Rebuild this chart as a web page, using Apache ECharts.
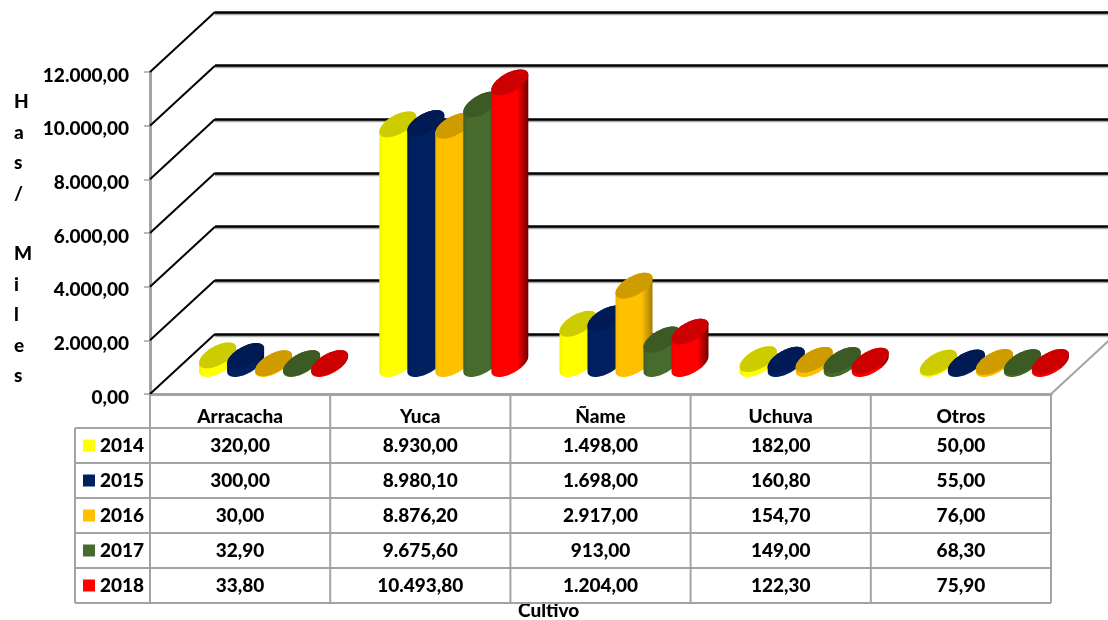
<!DOCTYPE html>
<html>
<head>
<meta charset="utf-8">
<script src="https://cdn.jsdelivr.net/npm/echarts@6/dist/echarts.min.js"></script>
<style>html,body{margin:0;padding:0;background:#fff}#c{width:1108px;height:620px}</style>
</head>
<body>
<div id="c"></div>
<script>
const categories = ['Arracacha', 'Yuca', 'Ñame', 'Uchuva', 'Otros'];
const years = ['2014', '2015', '2016', '2017', '2018'];
const v2014 = [320, 8930, 1498, 182, 50];
const v2015 = [300, 8980.1, 1698, 160.8, 55];
const v2016 = [30, 8876.2, 2917, 154.7, 76];
const v2017 = [32.9, 9675.6, 913, 149, 68.3];
const v2018 = [33.8, 10493.8, 1204, 122.3, 75.9];
const yTicks = [0, 2000, 4000, 6000, 8000, 10000, 12000];
const yTitle = ['H', 'a', 's', '/', '', 'M', 'i', 'l', 'e', 's'];
const xTitle = 'Cultivo';

const rows = [v2014, v2015, v2016, v2017, v2018];
const sideColors = [
  ['#f4f400', '#ffff00', '#ffff00', '#d8d800'],
  ['#001a50', '#002060', '#002060', '#00143c'],
  ['#f5b800', '#ffc000', '#ffc000', '#a57e00'],
  ['#405f26', '#476b2d', '#476b2d', '#2a401a'],
  ['#f00000', '#ff0000', '#ff0000', '#6e0000']
];
const topColors = ['#cccc00', '#001a55', '#cf9c00', '#3b5a24', '#cc0000'];

const FONT = 'Lato';
const WEIGHT = 900;
const FS = 19;
const DX = 65, DY = -60, STEP = 28, CENTER_SHIFT = 1;
const A = 20.5, B = 9.5, TH = 29 * Math.PI / 180;
const TABLE_LEFT = 75, TABLE_BOTTOM = 603;
const rowEdges = [428, 463, 498, 533, 568, 603];
const GRAY = '#a3a3a3';

function fmt(n) {
  const p = n.toFixed(2).split('.');
  return p[0].replace(/\B(?=(\d{3})+$)/g, '.') + ',' + p[1];
}

function ellipsePoint(cx, cy, t) {
  return [
    cx + A * Math.cos(t) * Math.cos(TH) + B * Math.sin(t) * Math.sin(TH),
    cy - A * Math.cos(t) * Math.sin(TH) + B * Math.sin(t) * Math.cos(TH)
  ];
}

function cylinder(idx) {
  return function (params, api) {
    const cat = api.value(0), val = api.value(1);
    const base = api.coord([cat, 0]);
    const top = api.coord([cat, val]);
    const cx = base[0] + DX / 2 + CENTER_SHIFT + (idx - 2) * STEP;
    const by = base[1] + DY / 2, ty = top[1] + DY / 2;
    const t0 = Math.atan2(B * Math.sin(TH), A * Math.cos(TH));
    const N = 36, side = [], cap = [];
    for (let k = 0; k <= N; k++) side.push(ellipsePoint(cx, by, t0 + Math.PI * k / N));
    for (let k = 0; k <= N; k++) side.push(ellipsePoint(cx, ty, t0 + Math.PI + Math.PI * k / N));
    for (let k = 0; k < 2 * N; k++) cap.push(ellipsePoint(cx, ty, t0 + Math.PI * k / N));
    const sc = sideColors[idx];
    return {
      type: 'group',
      children: [
        {
          type: 'polygon', shape: { points: side },
          style: {
            fill: { type: 'linear', x: 0, y: 0, x2: 1, y2: 0, colorStops: [
              { offset: 0, color: sc[0] }, { offset: 0.12, color: sc[1] },
              { offset: 0.7, color: sc[2] }, { offset: 1, color: sc[3] }
            ] }
          }
        },
        { type: 'polygon', shape: { points: cap }, style: { fill: topColors[idx] } }
      ]
    };
  };
}

function renderDepth(params, api) {
  const v = api.value(1);
  const p = api.coord([0, v]);
  const halfCat = api.size([1, 0])[0] / 2;
  const x0 = p[0] - halfCat;
  const children = [{
    type: 'line',
    shape: { x1: x0, y1: p[1], x2: x0 + DX, y2: p[1] + DY },
    style: { stroke: '#000', lineWidth: 2 }
  }];
  if (v === 0) {
    const xr = api.coord([categories.length - 1, 0])[0] + halfCat;
    children.push({
      type: 'line',
      shape: { x1: xr, y1: p[1], x2: xr + DX, y2: p[1] + DY },
      style: { stroke: GRAY, lineWidth: 2 }
    });
  }
  return { type: 'group', children };
}

function renderTable(params, api) {
  const halfCat = api.size([1, 0])[0] / 2;
  const c0 = api.coord([0, 0]);
  const right = api.coord([categories.length - 1, 0])[0] + halfCat;
  const children = [];
  const line = (x1, y1, x2, y2) => children.push({
    type: 'line', shape: { x1, y1, x2, y2 }, style: { stroke: GRAY, lineWidth: 2 }
  });
  rowEdges.forEach(y => line(TABLE_LEFT, y, right, y));
  line(TABLE_LEFT, rowEdges[0], TABLE_LEFT, TABLE_BOTTOM);
  for (let i = 0; i <= categories.length; i++) {
    const x = c0[0] - halfCat + i * halfCat * 2;
    line(x, c0[1], x, TABLE_BOTTOM);
  }
  rows.forEach((r, ri) => r.forEach((val, ci) => {
    children.push({
      type: 'text',
      style: {
        x: api.coord([ci, 0])[0],
        y: (rowEdges[ri] + rowEdges[ri + 1]) / 2 + 0.5,
        text: fmt(val), fill: '#000', align: 'center', verticalAlign: 'middle',
        font: WEIGHT + ' ' + FS + 'px ' + FONT
      }
    });
  }));
  return { type: 'group', children };
}

const chart = echarts.init(document.getElementById('c'), null, { renderer: 'canvas' });

chart.setOption({
  animation: false,
  backgroundColor: '#fff',
  textStyle: { fontFamily: FONT },
  legend: {
    left: 83, top: 436, height: 180, padding: 0, orient: 'vertical', selectedMode: false,
    data: years, icon: 'rect', itemWidth: 12, itemHeight: 12, itemGap: 16,
    textStyle: { fontFamily: FONT, fontWeight: WEIGHT, fontSize: FS, color: '#000' }
  },
  grid: [
    { left: 150, top: 72, width: 901, height: 322 },
    { left: 215, top: 12, width: 893, height: 322 }
  ],
  xAxis: [
    {
      type: 'category', gridIndex: 0, data: categories,
      axisLine: { lineStyle: { color: GRAY, width: 3 } },
      axisTick: { show: false },
      axisLabel: { color: '#000', fontFamily: FONT, fontWeight: WEIGHT, fontSize: FS, margin: 13, interval: 0 }
    },
    { type: 'category', gridIndex: 1, data: categories, show: false }
  ],
  yAxis: [
    {
      type: 'value', gridIndex: 0, min: 0, max: 12000, interval: 2000,
      axisLine: { show: true, lineStyle: { color: GRAY, width: 3 } },
      axisTick: { show: true, length: 6, lineStyle: { color: GRAY, width: 1.5 } },
      splitLine: { show: false },
      axisLabel: {
        margin: 21,
        formatter: n => '{v|' + fmt(n) + '}',
        rich: { v: { color: '#000', fontFamily: FONT, fontWeight: WEIGHT, fontSize: FS, padding: [7, 0, 0, 0] } }
      }
    },
    {
      type: 'value', gridIndex: 1, min: 0, max: 12000, interval: 2000,
      axisLine: { show: false }, axisTick: { show: false }, axisLabel: { show: false },
      splitLine: { show: true, lineStyle: { color: '#000', width: 2.5, shadowColor: '#aaa', shadowOffsetY: 1.5, shadowBlur: 0 } }
    }
  ],
  graphic: [
    {
      type: 'text', left: 14, top: 87, silent: true,
      style: {
        text: yTitle.join('\n'), fill: '#000', width: 16, align: 'center',
        font: WEIGHT + ' ' + FS + 'px ' + FONT, lineHeight: 30.4
      }
    },
    {
      type: 'text', left: 518, top: 601, silent: true,
      style: { text: xTitle, fill: '#000', font: WEIGHT + ' ' + FS + 'px ' + FONT }
    }
  ],
  series: [
    {
      name: 'depth', type: 'custom', xAxisIndex: 0, yAxisIndex: 0, silent: true, z: 1,
      renderItem: renderDepth, data: yTicks.map(t => [0, t]), encode: { x: 0, y: 1 }
    },
    {
      name: 'table', type: 'custom', xAxisIndex: 0, yAxisIndex: 0, silent: true, z: 1,
      renderItem: renderTable, data: [[0, 0]], encode: { x: 0, y: 1 }
    }
  ].concat(years.map((y, idx) => ({
    name: y, type: 'custom', xAxisIndex: 0, yAxisIndex: 0, z: 3 + idx,
    itemStyle: { color: sideColors[idx][1] },
    renderItem: cylinder(idx),
    data: rows[idx].map((val, i) => [i, val]),
    encode: { x: 0, y: 1 }
  })))
});
</script>
</body>
</html>
